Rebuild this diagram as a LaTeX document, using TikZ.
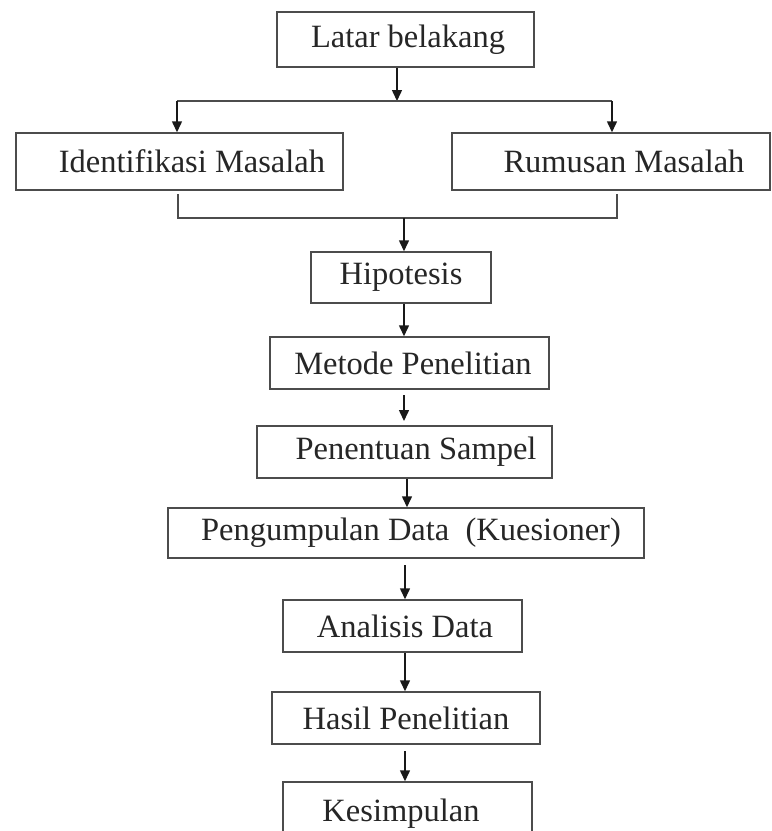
\documentclass[tikz,border=0pt]{standalone}
\usepackage{fontspec}
\setmainfont{Liberation Serif}
\usetikzlibrary{arrows.meta,calc}
\begin{document}
\begin{tikzpicture}[x=1pt,y=-1pt,
  box/.style={draw=black!70,line width=1.5pt,rectangle,inner sep=0pt,
    font=\fontsize{32.5}{38}\selectfont,text=black!85},
  arr/.style={draw=black!90,line width=1.5pt,-{Triangle[width=10pt,length=11pt]}},
  ln/.style={draw=black!70,line width=1.5pt}]
\useasboundingbox (0,0) rectangle (772,831);
\clip (0,0) rectangle (772,831);
\fill[white] (0,0) rectangle (772,831);

\node[box,minimum width=257pt,minimum height=55pt] (latar) at (405.5,39.5) {\hspace*{5pt}Latar belakang};
\node[box,minimum width=327pt,minimum height=57pt] (ident) at (179.5,161.5) {\hspace*{25pt}Identifikasi Masalah};
\node[box,minimum width=318pt,minimum height=57pt] (rumus) at (611,161.5) {\hspace*{26pt}Rumusan Masalah};
\node[box,minimum width=180pt,minimum height=51pt] (hipo) at (401,277.5) {Hipotesis};
\node[box,minimum width=279pt,minimum height=52pt] (metode) at (409.5,363) {\hspace*{7pt}Metode Penelitian};
\node[box,minimum width=295pt,minimum height=52pt] (sampel) at (404.5,452) {\hspace*{23pt}Penentuan Sampel};
\node[box,minimum width=476pt,minimum height=50pt] (kumpul) at (406,533) {\hspace*{10pt}Pengumpulan Data\ \ (Kuesioner)};
\node[box,minimum width=239pt,minimum height=52pt] (analisis) at (402.5,626) {\hspace*{5pt}Analisis Data};
\node[box,minimum width=268pt,minimum height=52pt] (hasil) at (406,718) {Hasil Penelitian};
\node[box,minimum width=249pt,minimum height=64pt] (simpul) at (407.5,814) {Kesimpulan\hspace*{13pt}};

% top split
\coordinate (jtop) at (397,101);
\coordinate (jl) at (177,101);
\coordinate (jr) at (612,101);
\draw[arr] (latar.south -| jtop) -- (jtop);
\draw[ln] (jl) -- (jr);
\draw[arr] (jl) -- (ident.north -| jl);
\draw[arr] (jr) -- (rumus.north -| jr);

% bottom merge
\coordinate (ml) at (178,194);
\coordinate (mr) at (617,194);
\coordinate (mbl) at (178,218);
\coordinate (mbr) at (617,218);
\coordinate (mc) at (404,218);
\draw[ln] (ml) -- (mbl) -- (mbr) -- (mr);
\draw[arr] (mc) -- (hipo.north -| mc);

% chain
\coordinate (a1) at (404,303);
\draw[arr] (hipo.south -| a1) -- (metode.north -| a1);
\coordinate (a2) at (404,395);
\coordinate (a2e) at (404,421);
\draw[arr] (a2) -- (a2e);
\coordinate (a3) at (407,478);
\draw[arr] (sampel.south -| a3) -- (kumpul.north -| a3);
\coordinate (a4) at (405,565);
\draw[arr] (a4) -- (analisis.north -| a4);
\coordinate (a5) at (405,652);
\draw[arr] (analisis.south -| a5) -- (hasil.north -| a5);
\coordinate (a6) at (405,751);
\draw[arr] (a6) -- (simpul.north -| a6);
\end{tikzpicture}
\end{document}
